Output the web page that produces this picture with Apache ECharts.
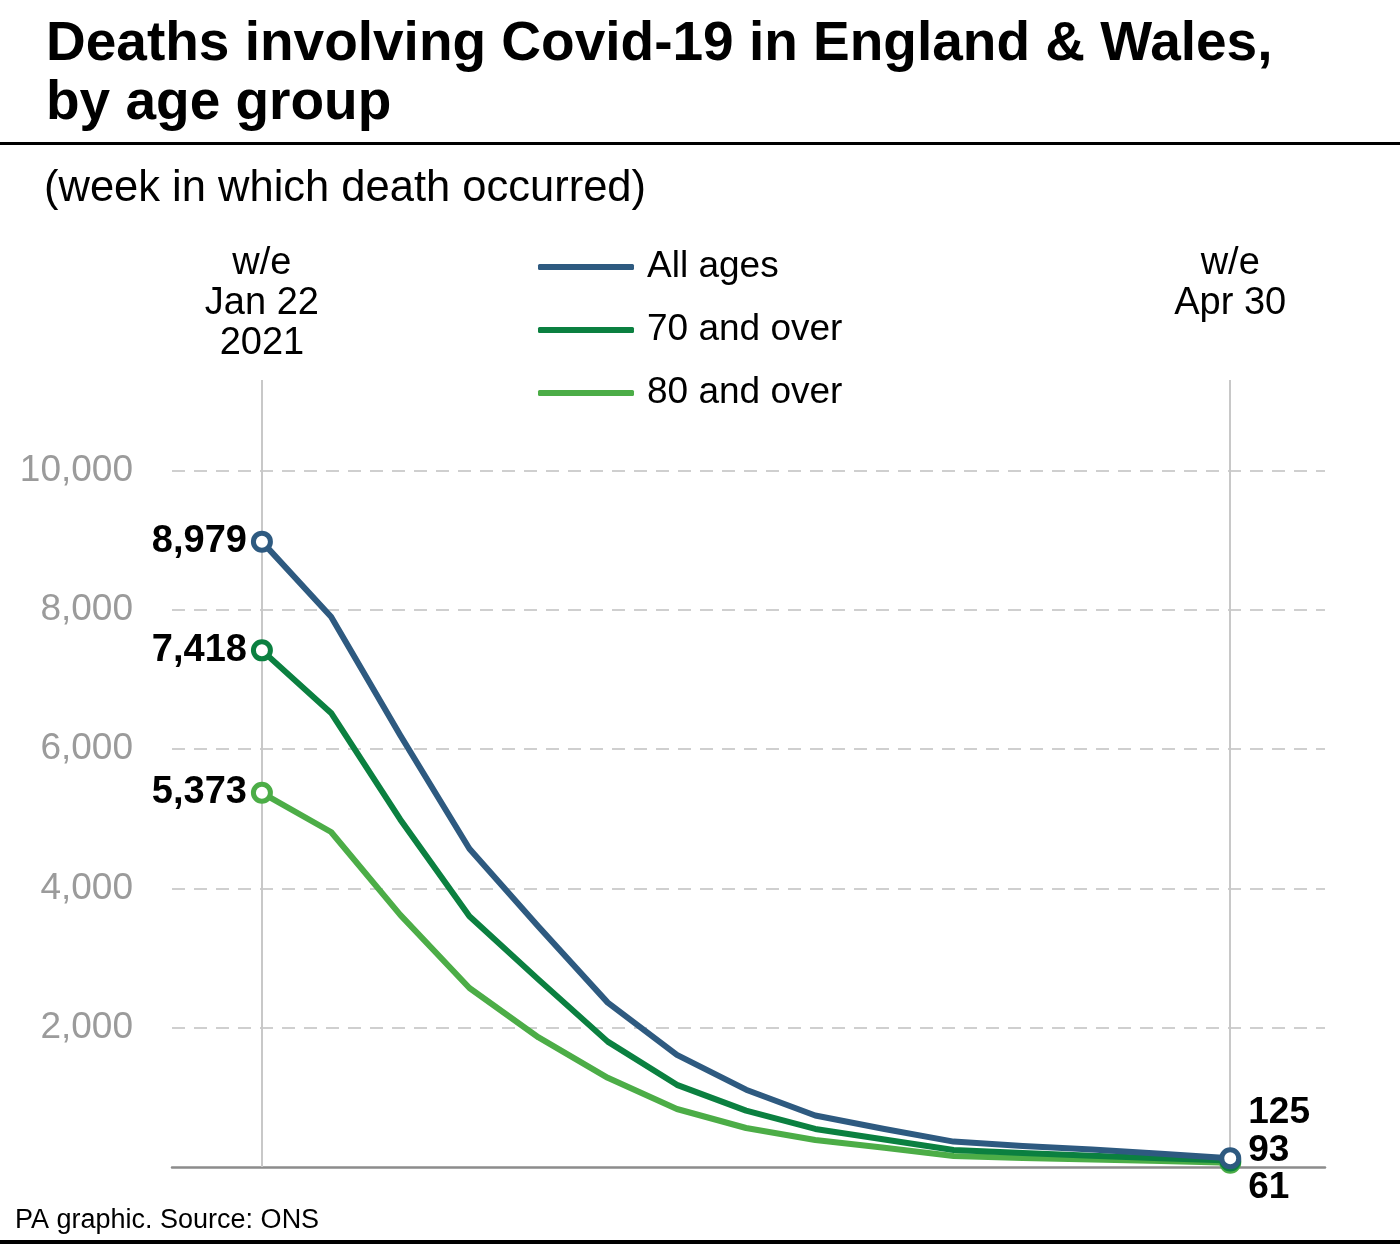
<!DOCTYPE html>
<html>
<head>
<meta charset="utf-8">
<script src="https://cdn.jsdelivr.net/npm/echarts@6/dist/echarts.min.js"></script>
<style>
html,body{margin:0;padding:0;background:#fff;}
#chart{width:1400px;height:1251px;}
</style>
</head>
<body>
<div id="chart"></div>
<script>
// ---- data ----
const weeks = ['Jan 22','Jan 29','Feb 5','Feb 12','Feb 19','Feb 26','Mar 5','Mar 12','Mar 19','Mar 26','Apr 2','Apr 9','Apr 16','Apr 23','Apr 30'];
const allAges = [8979, 7900, 6200, 4570, 3450, 2360, 1610, 1110, 740, 545, 365, 300, 250, 190, 125];
const over70  = [7418, 6520, 4990, 3600, 2690, 1800, 1180, 810, 546, 395, 245, 200, 160, 125, 93];
const over80  = [5373, 4810, 3620, 2570, 1860, 1280, 833, 560, 388, 275, 158, 130, 108, 85, 61];
const seriesNames = ['All ages', '70 and over', '80 and over'];
const yTicks = [0, 2000, 4000, 6000, 8000, 10000];
const startLabel = 'w/e\nJan 22\n2021';
const endLabel = 'w/e\nApr 30';

const colors = ['#2e5a80', '#0b8040', '#4cad47'];
const FONT = '"Liberation Sans", Arial, sans-serif';
const last = weeks.length - 1;
const endOffsets = [-45, -10, 25];

function buildData(vals, k) {
  return vals.map((v, i) => {
    const item = { value: [i, v] };
    if (i === 0) {
      item.label = { show: true, position: 'left', distance: 4,
        formatter: v.toLocaleString('en-GB'), fontFamily: FONT, fontWeight: 'bold',
        fontSize: 38, color: '#000' };
    } else if (i === last) {
      item.label = { show: true, position: 'right', distance: 7, offset: [0, endOffsets[k]],
        formatter: v.toLocaleString('en-GB'), fontFamily: FONT, fontWeight: 'bold',
        fontSize: 37, color: '#000' };
    }
    return item;
  });
}

const seriesVals = [allAges, over70, over80];
const series = seriesVals.map((vals, k) => ({
  name: seriesNames[k],
  type: 'line',
  data: buildData(vals, k),
  z: 10 - k,
  symbol: 'circle',
  symbolSize: (val, p) => (p.dataIndex === 0 || p.dataIndex === last) ? 17 : 0,
  showSymbol: true,
  itemStyle: { color: '#fff', borderColor: colors[k], borderWidth: 5 },
  lineStyle: { color: colors[k], width: 6, cap: 'round', join: 'round' },
  emphasis: { disabled: true },
  animation: false
}));

series[0].markLine = {
  symbol: 'none',
  silent: true,
  z: 1,
  lineStyle: { color: '#c8c8c8', width: 2, type: 'solid' },
  label: { show: true, position: 'end', fontFamily: FONT, fontSize: 38,
           color: '#000', lineHeight: 40 },
  data: [
    { xAxis: 0, label: { formatter: startLabel, distance: 16 } },
    { xAxis: last, label: { formatter: endLabel, distance: 56 } }
  ]
};

const chart = echarts.init(document.getElementById('chart'), null, { renderer: 'canvas' });
chart.setOption({
  backgroundColor: '#fff',
  animation: false,
  title: [
    { text: 'Deaths involving Covid-19 in England & Wales,\nby age group', left: 41, top: 10,
      textStyle: { fontFamily: FONT, fontWeight: 'bold', fontSize: 55, lineHeight: 59, color: '#000' } },
    { text: '(week in which death occurred)', left: 39, top: 162,
      textStyle: { fontFamily: FONT, fontWeight: 'normal', fontSize: 43.5, lineHeight: 43, color: '#000' } },
    { text: 'PA graphic. Source: ONS', left: 10, top: 1202,
      textStyle: { fontFamily: FONT, fontWeight: 'normal', fontSize: 27, lineHeight: 28, color: '#000' } }
  ],
  legend: {
    data: seriesNames.map((n, k) => ({ name: n, itemStyle: { color: colors[k], borderWidth: 0 } })),
    orient: 'vertical',
    left: 533, top: 242,
    icon: 'roundRect',
    itemWidth: 96, itemHeight: 6,
    itemGap: 23,
    selectedMode: false,
    textStyle: { fontFamily: FONT, fontSize: 37, lineHeight: 40, color: '#000', padding: [0, 0, 0, 8] }
  },
  grid: { left: 172, right: 75, top: 380, bottom: 84 },
  xAxis: {
    type: 'value', min: -1.3, max: last + 1.37,
    axisLine: { show: true, lineStyle: { color: '#8c8c8c', width: 2.5 } },
    axisTick: { show: false }, axisLabel: { show: false }, splitLine: { show: false }
  },
  yAxis: {
    type: 'value', min: 0, max: 11300, interval: 2000,
    axisLine: { show: false }, axisTick: { show: false },
    axisLabel: {
      showMaxLabel: false, showMinLabel: false, margin: 39,
      formatter: v => (yTicks.indexOf(v) > 0 ? v.toLocaleString('en-GB') : ''),
      fontFamily: FONT, fontSize: 37, color: '#9b9b9b'
    },
    splitLine: { show: true, showMinLine: false, showMaxLine: false,
      lineStyle: { color: '#cfcfcf', width: 2, type: [13, 9] } }
  },
  series: series,
  graphic: [
    { type: 'rect', left: 0, top: 142, shape: { width: 1400, height: 3 }, style: { fill: '#000' } },
    { type: 'rect', left: 0, top: 1240, shape: { width: 1400, height: 4 }, style: { fill: '#000' } }
  ]
});
</script>
</body>
</html>
